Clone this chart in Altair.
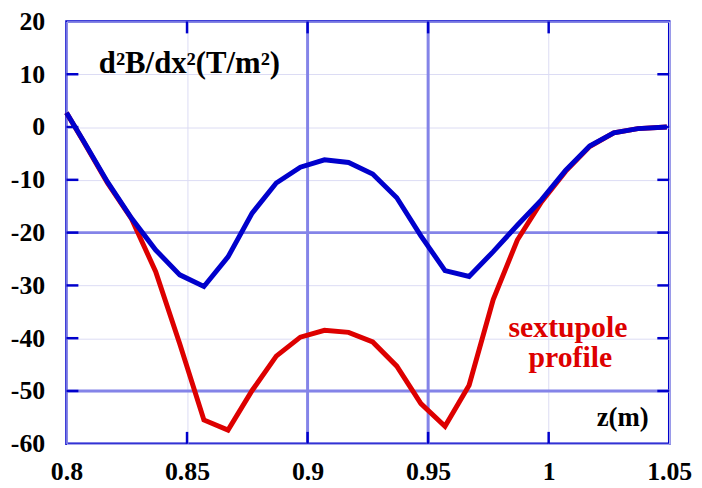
import altair as alt
import pandas as pd

# ---- data ----
z = [0.800, 0.807, 0.817, 0.827, 0.837, 0.847, 0.857, 0.867, 0.877, 0.887,
     0.897, 0.907, 0.917, 0.927, 0.937, 0.947, 0.957, 0.967, 0.977, 0.987,
     0.997, 1.007, 1.017, 1.027, 1.037, 1.049]
blue = [2.7, -2.6, -10.4, -17.3, -23.3, -28.0, -30.2, -24.6, -16.3, -10.6,
        -7.6, -6.2, -6.7, -8.9, -13.4, -20.6, -27.2, -28.3, -23.6, -18.6,
        -13.8, -8.2, -3.6, -1.1, -0.3, 0.0]
red = [2.7, -2.7, -10.6, -17.4, -27.4, -41.1, -55.5, -57.4, -49.9, -43.4,
       -39.8, -38.5, -38.9, -40.7, -45.3, -52.4, -56.7, -48.9, -32.7, -21.4,
       -14.2, -8.4, -3.7, -1.1, -0.3, 0.0]

x_ticks = [0.8, 0.85, 0.9, 0.95, 1.0, 1.05]
y_ticks = [-60, -50, -40, -30, -20, -10, 0, 10, 20]
x_inner_ticks = [0.85, 0.9, 0.95, 1.0]
y_inner_ticks = [-50, -40, -30, -20, -10, 0, 10]
x_major = [0.9, 0.95]
y_major = [-20, -50]

title_txt = "d\u00b2B/dx\u00b2(T/m\u00b2)"
series_lines = ["sextupole", "profile"]
xlabel_txt = "z(m)"

# ---- styling ----
W, H = 608, 426
FONT = "Liberation Serif"
BLUE = "#0000cc"
RED = "#dd0000"
GRID_LIGHT = "#dcdcf4"
GRID_MAJOR = "#8484e8"
TICK = 12
LBL = 26

xs = alt.Scale(domain=[0.8, 1.05], nice=False, zero=False)
ys = alt.Scale(domain=[-60, 20], nice=False, zero=False)

x_axis = alt.Axis(values=x_ticks, grid=True, gridColor=GRID_LIGHT, gridWidth=1,
                  ticks=False, domain=False, labelFont=FONT, labelFontWeight="bold",
                  labelFontSize=LBL, labelColor="black", labelPadding=15,
                  labelExpr="'' + datum.value", title=None, labelFlush=False,
                  labelOverlap=False)
y_axis = alt.Axis(values=y_ticks, grid=True, gridColor=GRID_LIGHT, gridWidth=1,
                  ticks=False, domain=False, labelFont=FONT, labelFontWeight="bold",
                  labelFontSize=LBL, labelColor="black", labelPadding=22,
                  labelExpr="'' + datum.value", title=None, labelFlush=False,
                  labelOverlap=False)


def X(field):
    return alt.X(field, type="quantitative", scale=xs, axis=x_axis)


def Y(field):
    return alt.Y(field, type="quantitative", scale=ys, axis=y_axis)


df = pd.DataFrame({"z": z, "blue": blue, "red": red})
xmaj = pd.DataFrame({"t": x_major})
ymaj = pd.DataFrame({"v": y_major})
xt = pd.DataFrame({"t": x_inner_ticks})
yt = pd.DataFrame({"v": y_inner_ticks})

vgrid = alt.Chart(xmaj).mark_rule(color=GRID_MAJOR, strokeWidth=3).encode(x=X("t"))
hgrid = alt.Chart(ymaj).mark_rule(color=GRID_MAJOR, strokeWidth=3).encode(y=Y("v"))

red_line = alt.Chart(df).mark_line(color=RED, strokeWidth=5).encode(x=X("z"), y=Y("red"))
blue_line = alt.Chart(df).mark_line(color=BLUE, strokeWidth=5).encode(x=X("z"), y=Y("blue"))

tick_style = dict(color=BLUE, strokeWidth=2.5)
left_ticks = alt.Chart(yt).mark_rule(**tick_style).encode(
    y=Y("v"), x=alt.value(0), x2=alt.value(TICK))
right_ticks = alt.Chart(yt).mark_rule(**tick_style).encode(
    y=Y("v"), x=alt.value(W - TICK), x2=alt.value(W))
bottom_ticks = alt.Chart(xt).mark_rule(**tick_style).encode(
    x=X("t"), y=alt.value(H - TICK), y2=alt.value(H))
top_ticks = alt.Chart(xt).mark_rule(**tick_style).encode(
    x=X("t"), y=alt.value(0), y2=alt.value(TICK))


def label(txt, zx, vy, size, color):
    return alt.Chart(df).transform_filter("datum.z == 0.8").mark_text(
        font=FONT, fontWeight="bold", fontSize=size, color=color,
        baseline="alphabetic", align="center").encode(
        x=alt.datum(zx, scale=xs, axis=x_axis), y=alt.datum(vy, scale=ys, axis=y_axis),
        text=alt.value(txt))


title_mark = label(title_txt, 0.851, 10.3, 31, "black")
sext_mark = label(series_lines[0], 1.008, -39.8, 30, RED)
prof_mark = label(series_lines[1], 1.009, -45.4, 30, RED)
zlab_mark = label(xlabel_txt, 1.0307, -56.6, 27, "black")

chart = alt.layer(
    vgrid, hgrid, red_line, blue_line,
    left_ticks, right_ticks, bottom_ticks, top_ticks,
    title_mark, sext_mark, prof_mark, zlab_mark,
).properties(
    width=W, height=H,
    autosize=alt.AutoSizeParams(type="none"),
    padding={"left": 59, "top": 11.5, "right": 25, "bottom": 40},
    background="white",
).configure_view(stroke=BLUE, strokeWidth=2.5).configure_axis(
    labelFont=FONT, labelFontWeight="bold")

chart.save("out.html", embed_options={"renderer": "svg", "actions": False})
